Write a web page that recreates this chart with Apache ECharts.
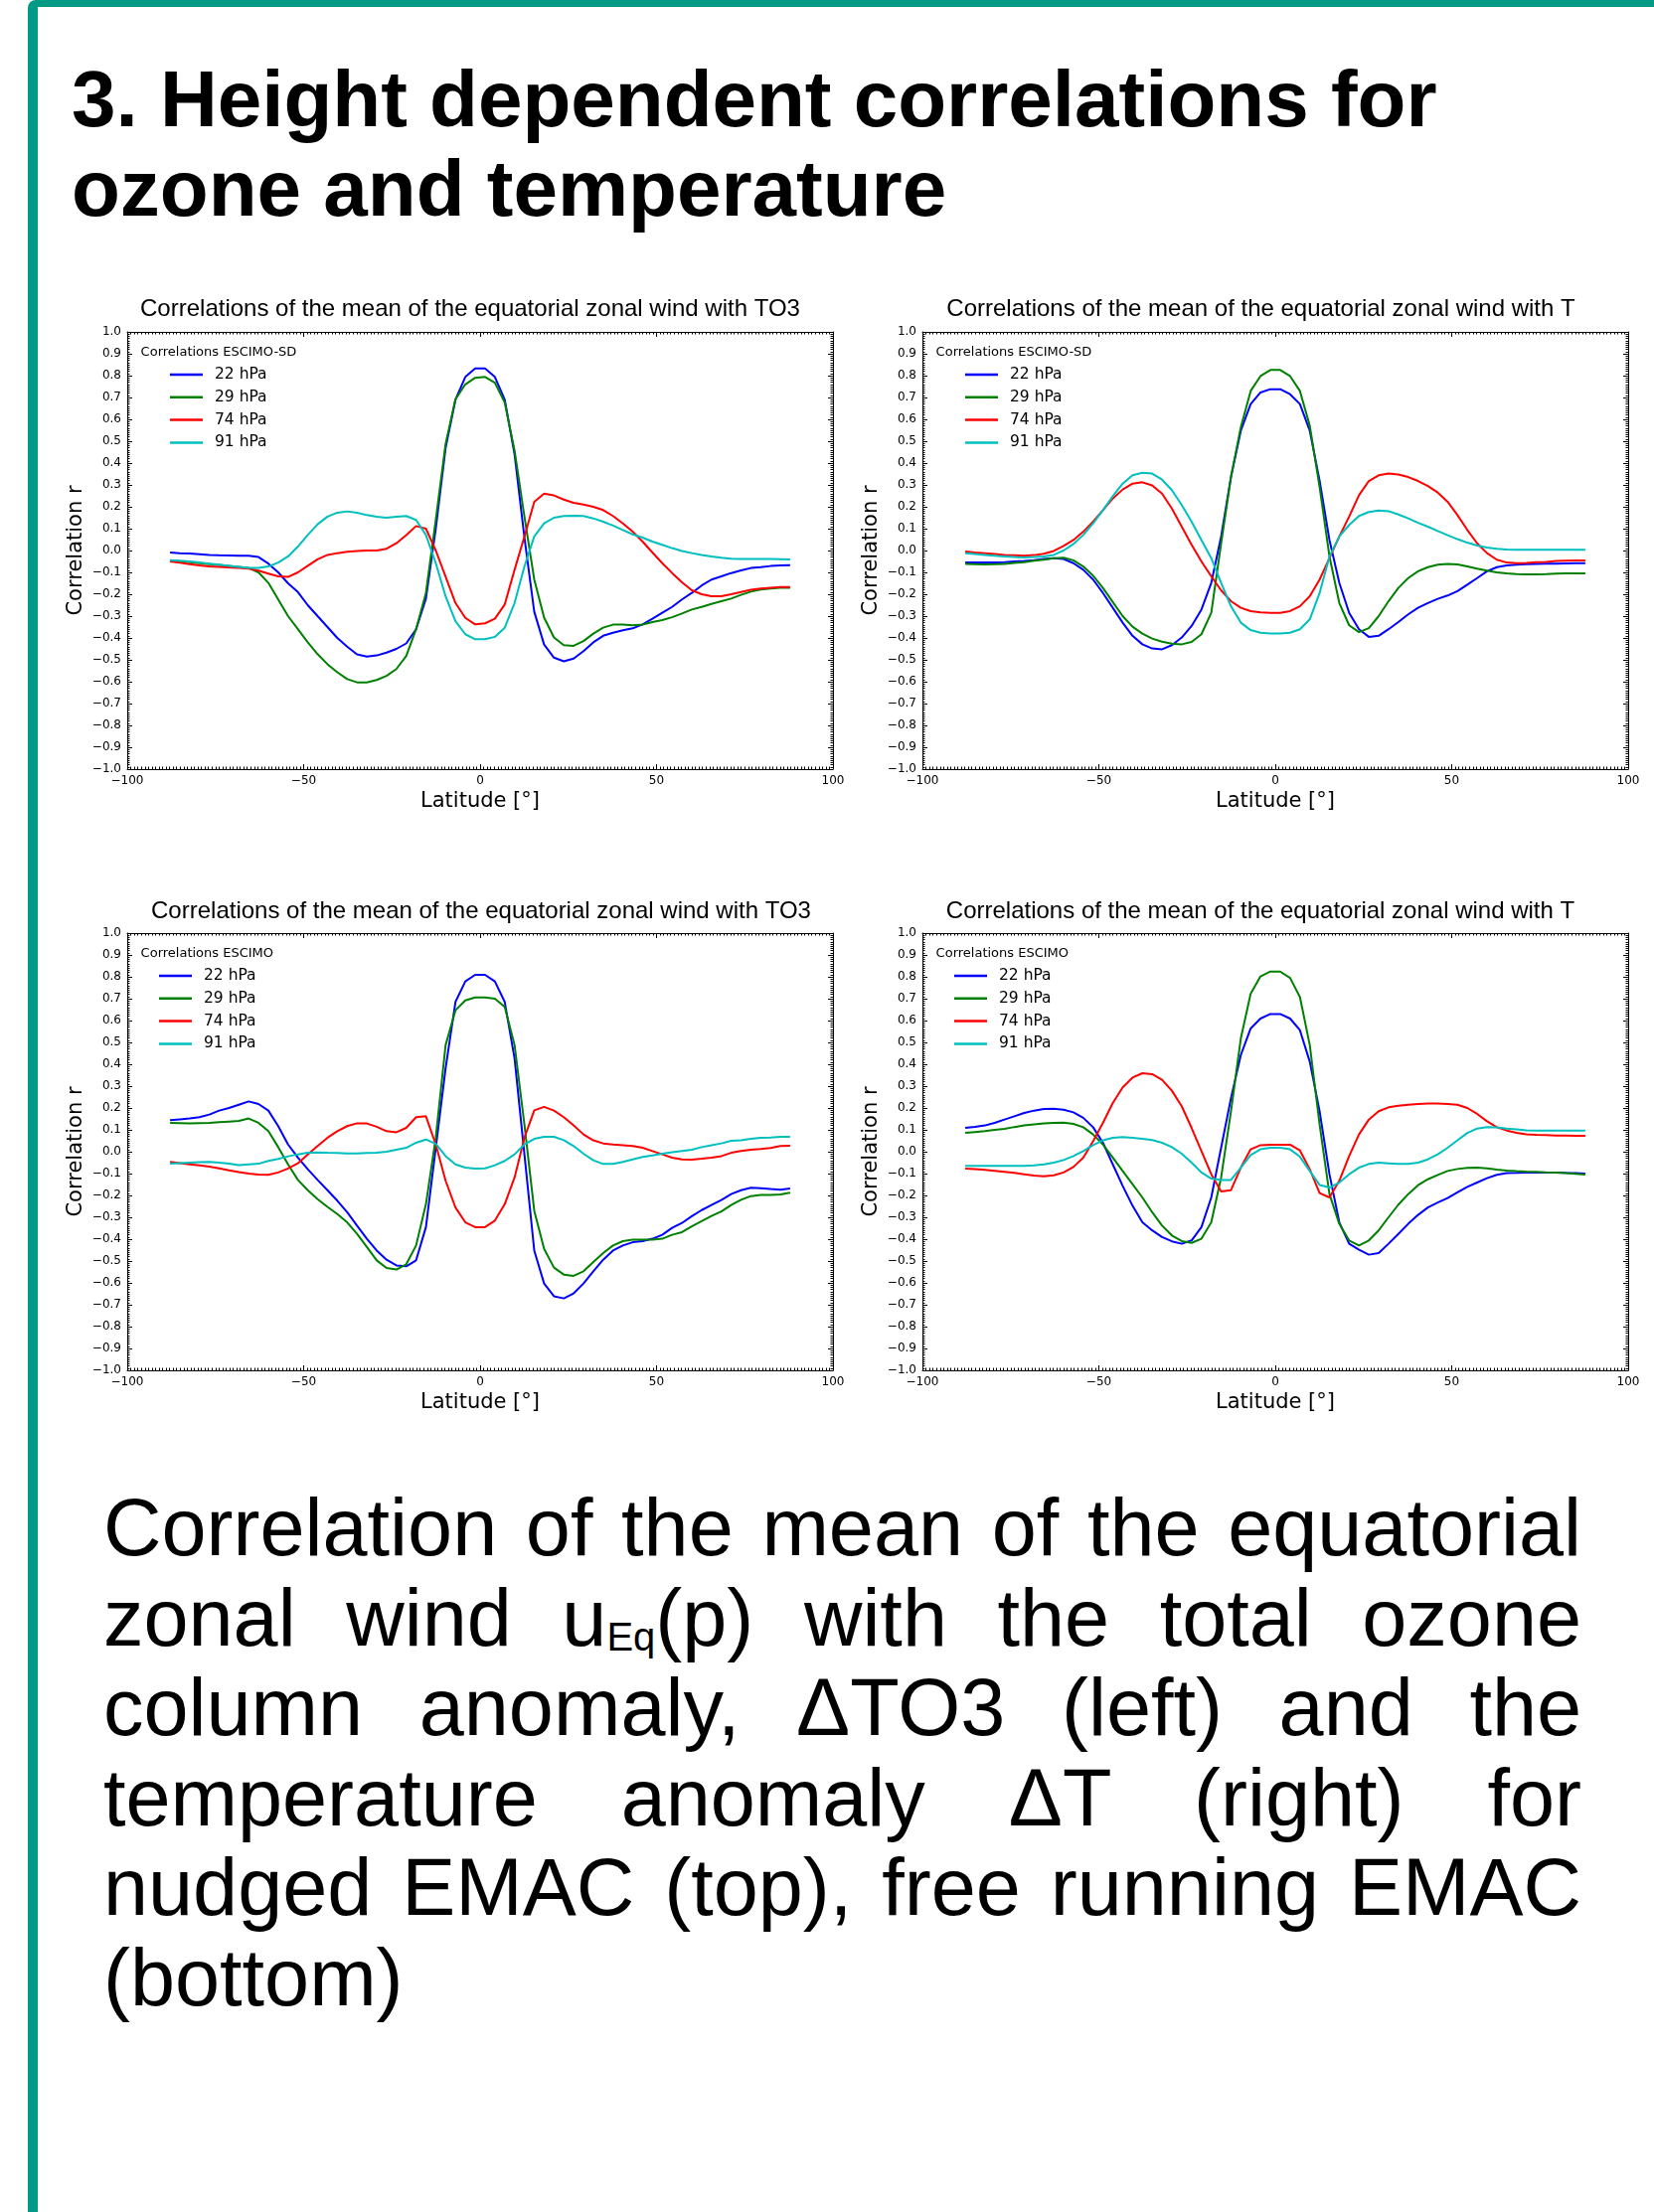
<!DOCTYPE html>
<html><head><meta charset="utf-8">
<script src="https://cdn.jsdelivr.net/npm/echarts@6/dist/echarts.min.js"></script>
<style>
html,body{margin:0;padding:0;background:#fff;}
body{width:1664px;height:2226px;position:relative;overflow:hidden;}
#frame{position:absolute;left:28px;top:0;width:1700px;height:2300px;border-left:10px solid #009a85;border-top:7px solid #009a85;border-top-left-radius:8px;box-sizing:border-box;}
#head{position:absolute;left:72px;top:55px;font-family:'Liberation Sans',Arial,sans-serif;font-weight:bold;font-size:80px;line-height:90px;color:#000;white-space:nowrap;margin:0;}
#chart{position:absolute;left:0;top:0;width:1664px;height:1450px;}
#cap{position:absolute;left:104px;top:1492px;width:1487px;font-family:'Liberation Sans',Arial,sans-serif;font-size:81px;line-height:90.6px;text-align:justify;color:#000;margin:0;}
#cap sub{font-size:40px;position:relative;top:5px;vertical-align:baseline;line-height:0;color:#000;}
</style></head>
<body>
<div id="frame"></div>
<div id="head">3. Height dependent correlations for<br>ozone and temperature</div>
<div id="chart"></div>
<div id="cap">Correlation of the mean of the equatorial zonal wind u<sub>Eq</sub>(p) with the total ozone column anomaly, ΔTO3 (left) and the temperature anomaly ΔT (right) for nudged EMAC (top), free running EMAC (bottom)</div>
<script>
// Latitudes (T42 Gaussian grid)
const lat = [-87.86,-85.10,-82.31,-79.53,-76.74,-73.95,-71.16,-68.37,-65.58,-62.79,-60.00,-57.21,-54.42,-51.63,-48.84,-46.05,-43.25,-40.46,-37.67,-34.88,-32.09,-29.30,-26.51,-23.72,-20.93,-18.14,-15.35,-12.56,-9.77,-6.98,-4.19,-1.40,1.40,4.19,6.98,9.77,12.56,15.35,18.14,20.93,23.72,26.51,29.30,32.09,34.88,37.67,40.46,43.25,46.05,48.84,51.63,54.42,57.21,60.00,62.79,65.58,68.37,71.16,73.95,76.74,79.53,82.31,85.10,87.86];

const levels = ['22 hPa','29 hPa','74 hPa','91 hPa'];
const xTickValues = [-100,-50,0,50,100];

// Top-left: TO3, ESCIMO-SD
const tlB = [-0.009,-0.012,-0.014,-0.017,-0.020,-0.022,-0.023,-0.024,-0.024,-0.030,-0.060,-0.100,-0.150,-0.190,-0.250,-0.300,-0.350,-0.400,-0.440,-0.475,-0.485,-0.480,-0.467,-0.450,-0.425,-0.360,-0.220,0.100,0.470,0.690,0.794,0.833,0.833,0.794,0.690,0.440,0.060,-0.280,-0.430,-0.490,-0.507,-0.494,-0.460,-0.420,-0.390,-0.376,-0.365,-0.356,-0.338,-0.312,-0.285,-0.258,-0.224,-0.194,-0.160,-0.133,-0.118,-0.103,-0.091,-0.080,-0.076,-0.071,-0.068,-0.067];
const tlG = [-0.045,-0.049,-0.053,-0.058,-0.062,-0.066,-0.070,-0.075,-0.080,-0.100,-0.148,-0.224,-0.300,-0.360,-0.420,-0.474,-0.520,-0.557,-0.588,-0.603,-0.603,-0.592,-0.573,-0.542,-0.482,-0.360,-0.194,0.140,0.488,0.692,0.760,0.790,0.794,0.768,0.677,0.457,0.155,-0.133,-0.307,-0.398,-0.433,-0.436,-0.414,-0.380,-0.353,-0.339,-0.339,-0.342,-0.339,-0.327,-0.318,-0.305,-0.288,-0.270,-0.258,-0.244,-0.232,-0.220,-0.203,-0.188,-0.179,-0.174,-0.171,-0.170];
const tlR = [-0.050,-0.056,-0.062,-0.068,-0.073,-0.075,-0.077,-0.080,-0.083,-0.092,-0.106,-0.118,-0.121,-0.100,-0.070,-0.040,-0.020,-0.012,-0.006,-0.002,0.000,0.000,0.008,0.033,0.070,0.112,0.100,0.000,-0.120,-0.240,-0.308,-0.338,-0.333,-0.312,-0.247,-0.088,0.064,0.223,0.260,0.252,0.233,0.218,0.210,0.200,0.185,0.158,0.124,0.086,0.041,-0.009,-0.058,-0.103,-0.145,-0.182,-0.200,-0.209,-0.209,-0.200,-0.190,-0.180,-0.174,-0.170,-0.167,-0.167];
const tlC = [-0.044,-0.047,-0.050,-0.055,-0.060,-0.065,-0.070,-0.075,-0.079,-0.080,-0.073,-0.055,-0.027,0.018,0.071,0.120,0.155,0.173,0.179,0.173,0.162,0.155,0.150,0.155,0.158,0.140,0.071,-0.058,-0.210,-0.323,-0.383,-0.406,-0.406,-0.395,-0.353,-0.240,-0.073,0.064,0.124,0.150,0.158,0.159,0.158,0.147,0.132,0.114,0.094,0.074,0.059,0.041,0.026,0.011,-0.002,-0.012,-0.020,-0.027,-0.033,-0.038,-0.039,-0.039,-0.039,-0.039,-0.040,-0.041];

// Top-right: T, ESCIMO-SD
const trB = [-0.055,-0.055,-0.055,-0.054,-0.053,-0.050,-0.048,-0.044,-0.039,-0.035,-0.039,-0.058,-0.088,-0.133,-0.194,-0.262,-0.330,-0.390,-0.429,-0.448,-0.452,-0.433,-0.398,-0.345,-0.270,-0.148,0.064,0.336,0.548,0.670,0.723,0.738,0.738,0.715,0.670,0.548,0.320,0.048,-0.148,-0.285,-0.360,-0.395,-0.390,-0.360,-0.327,-0.292,-0.262,-0.240,-0.221,-0.206,-0.186,-0.156,-0.126,-0.095,-0.076,-0.068,-0.065,-0.062,-0.061,-0.060,-0.060,-0.059,-0.058,-0.058];
const trG = [-0.061,-0.063,-0.064,-0.063,-0.061,-0.057,-0.053,-0.047,-0.042,-0.035,-0.033,-0.045,-0.073,-0.115,-0.171,-0.236,-0.300,-0.348,-0.380,-0.403,-0.417,-0.426,-0.429,-0.418,-0.383,-0.285,0.033,0.336,0.564,0.730,0.798,0.826,0.826,0.798,0.730,0.571,0.290,-0.027,-0.240,-0.342,-0.373,-0.355,-0.300,-0.232,-0.171,-0.126,-0.095,-0.076,-0.065,-0.061,-0.064,-0.073,-0.083,-0.092,-0.100,-0.105,-0.108,-0.109,-0.109,-0.108,-0.106,-0.105,-0.105,-0.105];
const trR = [-0.005,-0.009,-0.012,-0.016,-0.020,-0.022,-0.024,-0.021,-0.015,-0.002,0.021,0.048,0.086,0.132,0.185,0.238,0.279,0.306,0.312,0.298,0.260,0.192,0.109,0.026,-0.050,-0.118,-0.182,-0.232,-0.262,-0.277,-0.283,-0.285,-0.285,-0.277,-0.255,-0.209,-0.133,-0.035,0.064,0.155,0.253,0.318,0.344,0.352,0.348,0.336,0.318,0.295,0.265,0.223,0.162,0.094,0.033,-0.012,-0.042,-0.055,-0.058,-0.057,-0.053,-0.052,-0.048,-0.047,-0.046,-0.045];
const trC = [-0.012,-0.016,-0.020,-0.024,-0.027,-0.030,-0.032,-0.030,-0.027,-0.020,0.000,0.030,0.071,0.124,0.185,0.248,0.306,0.344,0.356,0.352,0.324,0.276,0.208,0.132,0.048,-0.035,-0.148,-0.255,-0.330,-0.364,-0.376,-0.380,-0.380,-0.376,-0.360,-0.315,-0.194,-0.027,0.064,0.117,0.158,0.176,0.183,0.180,0.165,0.147,0.127,0.109,0.089,0.070,0.052,0.036,0.023,0.014,0.008,0.005,0.003,0.003,0.003,0.003,0.003,0.003,0.003,0.003];

// Bottom-left: TO3, ESCIMO
const blB = [0.144,0.148,0.152,0.158,0.170,0.188,0.200,0.215,0.230,0.218,0.188,0.117,0.033,-0.027,-0.080,-0.129,-0.176,-0.224,-0.277,-0.338,-0.398,-0.452,-0.494,-0.520,-0.524,-0.497,-0.345,0.018,0.382,0.685,0.779,0.809,0.809,0.779,0.685,0.427,-0.012,-0.452,-0.603,-0.661,-0.671,-0.648,-0.603,-0.547,-0.494,-0.452,-0.429,-0.414,-0.409,-0.398,-0.380,-0.348,-0.326,-0.295,-0.267,-0.244,-0.221,-0.194,-0.176,-0.165,-0.167,-0.171,-0.174,-0.168];
const blG = [0.132,0.131,0.130,0.131,0.132,0.135,0.138,0.141,0.152,0.132,0.094,0.021,-0.058,-0.129,-0.176,-0.217,-0.252,-0.285,-0.323,-0.376,-0.436,-0.497,-0.532,-0.539,-0.515,-0.429,-0.240,0.064,0.488,0.647,0.692,0.706,0.706,0.700,0.662,0.488,0.124,-0.270,-0.444,-0.530,-0.562,-0.568,-0.547,-0.505,-0.464,-0.429,-0.409,-0.402,-0.402,-0.402,-0.398,-0.380,-0.368,-0.342,-0.318,-0.294,-0.273,-0.244,-0.220,-0.203,-0.198,-0.198,-0.195,-0.188];
const blR = [-0.047,-0.052,-0.058,-0.062,-0.068,-0.076,-0.085,-0.093,-0.100,-0.105,-0.106,-0.095,-0.077,-0.053,-0.012,0.026,0.064,0.094,0.117,0.130,0.129,0.114,0.094,0.089,0.109,0.158,0.162,0.033,-0.133,-0.255,-0.323,-0.345,-0.345,-0.315,-0.240,-0.118,0.064,0.189,0.205,0.188,0.158,0.120,0.079,0.052,0.038,0.033,0.030,0.026,0.018,0.003,-0.012,-0.027,-0.035,-0.036,-0.032,-0.027,-0.020,-0.005,0.003,0.009,0.012,0.017,0.026,0.027];
const blC = [-0.055,-0.052,-0.050,-0.048,-0.047,-0.050,-0.055,-0.061,-0.058,-0.055,-0.042,-0.033,-0.021,-0.012,-0.005,-0.003,-0.005,-0.006,-0.008,-0.008,-0.006,-0.005,0.000,0.009,0.018,0.041,0.056,0.036,-0.020,-0.058,-0.073,-0.077,-0.076,-0.062,-0.042,-0.012,0.033,0.059,0.068,0.068,0.053,0.026,-0.009,-0.039,-0.056,-0.056,-0.047,-0.035,-0.024,-0.017,-0.009,-0.002,0.003,0.009,0.021,0.030,0.038,0.050,0.052,0.059,0.064,0.065,0.068,0.068];

// Bottom-right: T, ESCIMO
const brB = [0.109,0.114,0.120,0.132,0.147,0.162,0.177,0.188,0.195,0.197,0.192,0.180,0.155,0.112,0.041,-0.058,-0.156,-0.247,-0.323,-0.360,-0.390,-0.410,-0.421,-0.406,-0.345,-0.209,0.018,0.245,0.442,0.564,0.609,0.630,0.630,0.609,0.556,0.412,0.185,-0.103,-0.323,-0.421,-0.448,-0.471,-0.464,-0.421,-0.376,-0.330,-0.289,-0.255,-0.232,-0.212,-0.186,-0.161,-0.141,-0.121,-0.106,-0.098,-0.097,-0.095,-0.095,-0.095,-0.095,-0.097,-0.098,-0.100];
const brG = [0.086,0.090,0.094,0.100,0.105,0.113,0.120,0.125,0.129,0.132,0.133,0.127,0.112,0.079,0.033,-0.027,-0.088,-0.148,-0.209,-0.277,-0.338,-0.383,-0.409,-0.417,-0.398,-0.323,-0.118,0.185,0.518,0.723,0.802,0.824,0.824,0.795,0.708,0.488,0.124,-0.194,-0.330,-0.406,-0.429,-0.406,-0.360,-0.300,-0.242,-0.194,-0.153,-0.126,-0.106,-0.088,-0.079,-0.074,-0.073,-0.076,-0.082,-0.086,-0.089,-0.091,-0.092,-0.094,-0.095,-0.098,-0.101,-0.105];
const brR = [-0.077,-0.080,-0.083,-0.087,-0.092,-0.097,-0.103,-0.109,-0.112,-0.108,-0.095,-0.070,-0.027,0.048,0.132,0.223,0.294,0.339,0.359,0.355,0.329,0.279,0.208,0.109,0.003,-0.103,-0.182,-0.176,-0.073,0.011,0.030,0.032,0.032,0.032,0.006,-0.080,-0.189,-0.209,-0.133,-0.020,0.079,0.147,0.185,0.203,0.210,0.215,0.218,0.220,0.220,0.218,0.215,0.200,0.173,0.139,0.112,0.097,0.086,0.080,0.077,0.076,0.074,0.074,0.073,0.073];
const brC = [-0.065,-0.065,-0.065,-0.065,-0.065,-0.065,-0.065,-0.062,-0.058,-0.050,-0.038,-0.020,0.003,0.030,0.052,0.064,0.067,0.064,0.059,0.053,0.041,0.021,-0.009,-0.050,-0.095,-0.123,-0.130,-0.129,-0.073,-0.015,0.011,0.018,0.018,0.011,-0.023,-0.088,-0.152,-0.164,-0.141,-0.103,-0.073,-0.056,-0.050,-0.053,-0.056,-0.056,-0.050,-0.035,-0.012,0.018,0.052,0.086,0.106,0.112,0.111,0.106,0.102,0.098,0.097,0.097,0.097,0.097,0.097,0.097];

const titles = ['Correlations of the mean of the equatorial zonal wind with TO3','Correlations of the mean of the equatorial zonal wind with T','Correlations of the mean of the equatorial zonal wind with TO3','Correlations of the mean of the equatorial zonal wind with T'];
const legendTitles = ['Correlations ESCIMO-SD','Correlations ESCIMO-SD','Correlations ESCIMO','Correlations ESCIMO'];
const panelSeries = [[tlB,tlG,tlR,tlC],[trB,trG,trR,trC],[blB,blG,blR,blC],[brB,brG,brR,brC]];

// layout (pixels)
const colors = ['#0000ff','#008000','#ff0000','#00bfbf'];
const L = [
  {left:128, top:334, tx:473, ty:311, lx:171, ly:369, ltx:141.6, lty:355},
  {left:928, top:334, tx:1268.5, ty:311, lx:971, ly:369, ltx:941.6, lty:355},
  {left:128, top:939, tx:484, ty:917, lx:160, ly:974, ltx:141.6, lty:960},
  {left:928, top:939, tx:1268, ty:917, lx:960, ly:974, ltx:941.6, lty:960}
];
const W = 710, H = 440;
const minus = s => s.replace('-', '\u2212');
const fmtX = v => minus(String(Math.round(v)));
const fmtY = v => Math.abs(v) < 1e-9 ? '0.0' : minus(v.toFixed(1));

const grid = [], xAxis = [], yAxis = [], series = [], legend = [], graphic = [];
const tickFont = 'DejaVu Sans';
L.forEach((p, i) => {
  grid.push({left:p.left, top:p.top, width:W, height:H, containLabel:false, show:false});
  ['bottom','top'].forEach(pos => {
    xAxis.push({
      type:'value', gridIndex:i, position:pos, min:-100, max:100, interval:50,
      axisLine:{show:true, onZero:false, lineStyle:{color:'#000', width:1}},
      axisTick:{show:true, inside:true, length:5, lineStyle:{color:'#000', width:1}},
      minorTick:{show:true, splitNumber:50, length:2.5, lineStyle:{color:'#000', width:1}},
      splitLine:{show:false}, minorSplitLine:{show:false},
      axisLabel:{show:pos==='bottom', margin:6, color:'#000', fontFamily:tickFont, fontSize:12, formatter:fmtX, showMinLabel:true, showMaxLabel:true},
      name: pos==='bottom' ? 'Latitude [°]' : '', nameLocation:'middle', nameGap:22.5, nameMoveOverlap:false,
      nameTextStyle:{color:'#000', fontFamily:tickFont, fontSize:21}
    });
  });
  ['left','right'].forEach(pos => {
    yAxis.push({
      type:'value', gridIndex:i, position:pos, min:-1, max:1, interval:0.1,
      axisLine:{show:true, onZero:false, lineStyle:{color:'#000', width:1}},
      axisTick:{show:true, inside:true, length:5, lineStyle:{color:'#000', width:1}},
      minorTick:{show:true, splitNumber:10, length:2.5, lineStyle:{color:'#000', width:1}},
      splitLine:{show:false}, minorSplitLine:{show:false},
      axisLabel:{show:pos==='left', margin:6, color:'#000', fontFamily:tickFont, fontSize:12, formatter:fmtY, showMinLabel:true, showMaxLabel:true},
      name: pos==='left' ? 'Correlation r' : '', nameLocation:'middle', nameGap:41, nameRotate:90, nameMoveOverlap:false,
      nameTextStyle:{color:'#000', fontFamily:tickFont, fontSize:21}
    });
  });
  panelSeries[i].forEach((arr, j) => {
    series.push({
      type:'line', name:levels[j], xAxisIndex:2*i, yAxisIndex:2*i,
      data: lat.map((x, k) => [x, arr[k]]),
      showSymbol:false, symbol:'none', silent:true, clip:true,
      lineStyle:{width:2, color:colors[j]}, itemStyle:{color:colors[j]}
    });
  });
  legend.push({
    data: levels, orient:'vertical', left:p.lx, top:p.ly, padding:0, itemGap:6.8,
    itemWidth:33, itemHeight:2.5, icon:'rect', selectedMode:false,
    textStyle:{color:'#000', fontFamily:tickFont, fontSize:15.5, lineHeight:16, padding:[0,0,0,7]}
  });
  graphic.push({type:'text', x:p.tx, y:p.ty, silent:true,
    style:{text:titles[i], fill:'#000', font:'24px "Liberation Sans", Arial, sans-serif', align:'center', verticalAlign:'middle'}});
  graphic.push({type:'text', x:p.ltx, y:p.lty, silent:true,
    style:{text:legendTitles[i], fill:'#000', font:'13px "DejaVu Sans", sans-serif', align:'left', verticalAlign:'middle'}});
});

const chart = echarts.init(document.getElementById('chart'), null, {renderer:'canvas'});
chart.setOption({animation:false, backgroundColor:'transparent', grid, xAxis, yAxis, series, legend, graphic});
</script>
</body></html>
